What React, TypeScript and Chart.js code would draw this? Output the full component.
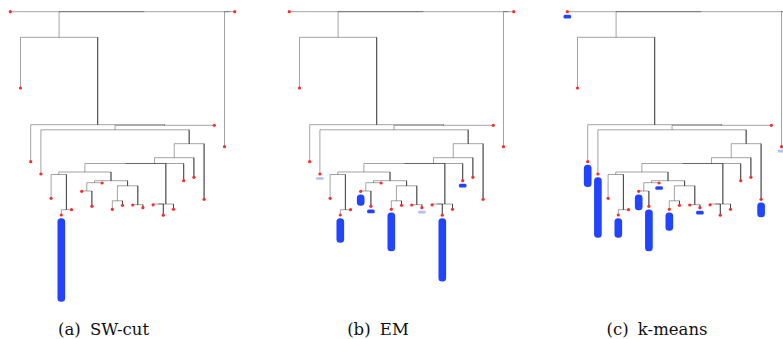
import React, { useEffect, useRef } from "react";
import { Chart, registerables } from "chart.js";

Chart.register(...registerables);

// Depth of each leaf below the top of the tree, in leaf order 0..22
const leafDepth = [
  11.7, 88, 161.7, 174, 198.3, 215, 209.7, 191.3, 206.3, 183, 209.3, 205.3,
  205, 207.7, 204.8, 215.2, 209.3, 180.7, 177.3, 199.3, 125.3, 146.7, 11.7,
];

// Binary merges: [left child, right child, depth]; ids >= 23 point at earlier merges
const merges: [number, number, number][] = [
  [5, 6, 209.7],
  [4, 23, 174.5],
  [7, 8, 191],
  [25, 9, 182.7],
  [10, 11, 200.8],
  [12, 13, 204.7],
  [27, 28, 185.8],
  [26, 29, 180.7],
  [24, 30, 172],
  [14, 15, 204],
  [32, 16, 204],
  [31, 33, 163.5],
  [34, 17, 163.5],
  [35, 18, 157.7],
  [36, 19, 143.7],
  [3, 37, 129.8],
  [38, 20, 125.3],
  [2, 39, 124.7],
  [1, 40, 37.3],
  [21, 22, 11.7],
  [41, 42, 11.7],
  [0, 43, 11.7],
];

// Cluster sizes hung under the leaves for each method
const swCutLeaves = [5];
const swCutSizes = [83];

const emLeaves = [3, 7, 8, 10, 13, 17, 15, 5];
const emSizes = [2, 10.5, 3, 38, 2, 3, 62.5, 24];

const kmeansLeaves = [0, 2, 3, 5, 7, 8, 9, 10, 13, 19, 21];
const kmeansSizes = [3, 21.5, 60, 19, 15, 41, 3, 17.5, 3, 14, 2];

const captions = ["(a) SW-cut", "(b) EM", "(c) k-means"];

// Tree geometry derived from the merge table
const nodeX: number[] = leafDepth.map((_, i) => i);
const nodeDepth: number[] = [...leafDepth];
merges.forEach(([a, b, d]) => {
  nodeX.push((nodeX[a] + nodeX[b]) / 2);
  nodeDepth.push(d);
});

const LEAF_STEP = 10.2; // px between neighbouring leaves
const X_MIN = -1.01;
const PLOT_H = 310;
const BAR_GAP = 3.5;

type PanelProps = {
  leaves: number[];
  sizes: number[];
  left: number;
  width: number;
};

function Dendrogram({ leaves, sizes, left, width }: PanelProps) {
  const ref = useRef<HTMLCanvasElement | null>(null);

  useEffect(() => {
    if (!ref.current) return;

    const links = merges.map(([a, b, d]) => ({
      type: "line" as const,
      data: [
        { x: nodeX[a], y: nodeDepth[a] },
        { x: nodeX[a], y: d },
        { x: nodeX[b], y: d },
        { x: nodeX[b], y: nodeDepth[b] },
      ],
      borderColor: "rgba(0,0,0,0.36)",
      borderWidth: 1,
      pointRadius: 0,
      fill: false,
      tension: 0,
      order: 2,
    }));

    const bars = {
      type: "bar" as const,
      data: leaves.map((leaf, i) => ({
        x: leaf,
        y: [leafDepth[leaf] + BAR_GAP, leafDepth[leaf] + BAR_GAP + sizes[i]],
      })),
      backgroundColor: sizes.map((s) => (s < 2.5 ? "#b3bff2" : "#2244ff")),
      barThickness: 7,
      borderRadius: 3.5,
      borderSkipped: false,
      order: 1,
    };

    const dots = {
      type: "scatter" as const,
      data: leafDepth.map((d, i) => ({ x: i, y: d })),
      backgroundColor: "#ff2b2b",
      borderWidth: 0,
      pointRadius: 1.6,
      order: 0,
    };

    const chart = new Chart(ref.current, {
      type: "scatter",
      data: { datasets: [dots, bars, ...links] as any },
      options: {
        animation: false,
        responsive: false,
        events: [],
        layout: { padding: 0, autoPadding: false },
        plugins: { legend: { display: false }, tooltip: { enabled: false } },
        scales: {
          x: {
            type: "linear",
            display: false,
            offset: false,
            min: X_MIN,
            max: X_MIN + width / LEAF_STEP,
          },
          y: {
            type: "linear",
            display: false,
            reverse: true,
            min: 0,
            max: PLOT_H,
          },
        },
      },
    });
    return () => chart.destroy();
  }, [leaves, sizes, width]);

  return (
    <canvas
      ref={ref}
      width={width}
      height={PLOT_H}
      style={{ position: "absolute", left, top: 0 }}
    />
  );
}

const panels = [
  { leaves: swCutLeaves, sizes: swCutSizes, left: 0, width: 275, captionX: 103.5 },
  { leaves: emLeaves, sizes: emSizes, left: 279, width: 275, captionX: 378 },
  { leaves: kmeansLeaves, sizes: kmeansSizes, left: 557, width: 226, captionX: 657 },
];

export default function App() {
  return (
    <div
      style={{
        position: "absolute",
        left: 0,
        top: 0,
        width: 783,
        height: 339,
        overflow: "hidden",
        background: "#fff",
      }}
    >
      {panels.map((p, i) => (
        <Dendrogram key={i} leaves={p.leaves} sizes={p.sizes} left={p.left} width={p.width} />
      ))}
      {panels.map((p, i) => (
        <div
          key={"c" + i}
          style={{
            position: "absolute",
            left: p.captionX - 80,
            width: 160,
            top: 320,
            textAlign: "center",
            fontFamily: '"DejaVu Serif", serif',
            fontSize: 16.5,
            lineHeight: "20px",
            wordSpacing: 4,
            color: "#111",
            whiteSpace: "nowrap",
          }}
        >
          {captions[i]}
        </div>
      ))}
    </div>
  );
}
